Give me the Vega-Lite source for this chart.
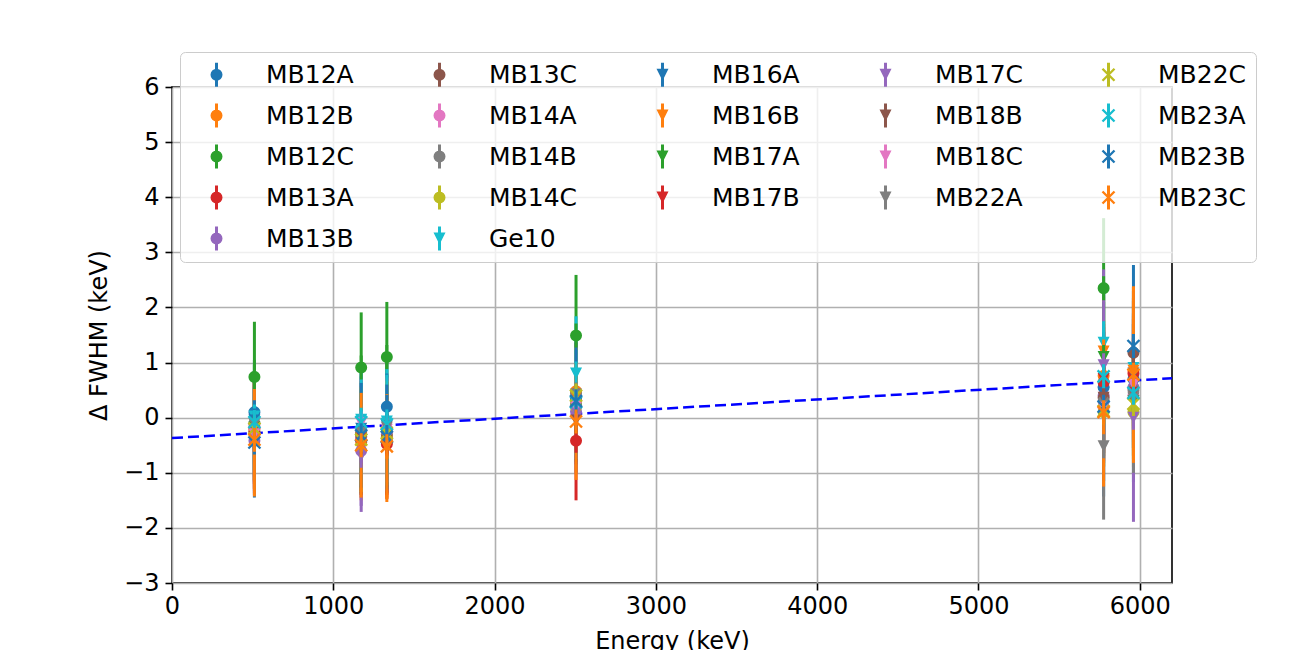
{
  "$schema": "https://vega.github.io/schema/vega-lite/v6.json",
  "width": 1000,
  "height": 496,
  "autosize": {"type": "none"},
  "padding": {"left": 172, "top": 87, "right": 119, "bottom": 67},
  "background": "white",
  "resolve": {"legend": {"color": "independent", "shape": "independent"}},
  "config": {
    "font": "DejaVu Sans",
    "view": {"stroke": "black", "strokeWidth": 1.6},
    "axis": {
      "labelFont": "DejaVu Sans",
      "titleFont": "DejaVu Sans",
      "labelFontSize": 24,
      "titleFontSize": 24,
      "titleFontWeight": "normal",
      "labelColor": "black",
      "titleColor": "black",
      "tickColor": "black",
      "tickSize": 7,
      "tickWidth": 1.6,
      "domain": false,
      "gridColor": "#b0b0b0",
      "gridWidth": 1.6,
      "labelFlush": false,
      "labelOverlap": false
    },
    "legend": {
      "orient": "none",
      "legendX": 8,
      "legendY": -35,
      "columns": 5,
      "gridAlign": "all",
      "labelFont": "DejaVu Sans",
      "labelFontSize": 25,
      "labelColor": "black",
      "symbolSize": 576,
      "symbolStrokeWidth": 0,
      "symbolOpacity": 1,
      "rowPadding": 15,
      "columnPadding": 59,
      "padding": 10,
      "cornerRadius": 5,
      "fillColor": "rgba(255,255,255,0.8)",
      "strokeColor": "#cccccc",
      "symbolOffset": 14,
      "labelOffset": 37,
      "symbolLimit": 0
    }
  },
  "datasets": {
    "fit": [{"E": 0, "f": -0.37}, {"E": 6200, "f": 0.715}],
    "pts": [
      {"d":"MB12A","E":511,"v":0.10,"e":0.95},{"d":"MB12A","E":1173,"v":-0.30,"e":0.95},{"d":"MB12A","E":1332,"v":0.20,"e":1.0},{"d":"MB12A","E":2505,"v":0.35,"e":1.0},{"d":"MB12A","E":5776,"v":0.55,"e":1.0},{"d":"MB12A","E":5961,"v":0.70,"e":1.0},
      {"d":"MB12B","E":511,"v":-0.30,"e":1.0},{"d":"MB12B","E":1173,"v":-0.45,"e":1.0},{"d":"MB12B","E":1332,"v":-0.45,"e":1.0},{"d":"MB12B","E":2505,"v":0.48,"e":1.0},{"d":"MB12B","E":5776,"v":0.76,"e":1.0},{"d":"MB12B","E":5961,"v":0.85,"e":1.0},
      {"d":"MB12C","E":511,"v":0.74,"e":1.0},{"d":"MB12C","E":1173,"v":0.91,"e":1.0},{"d":"MB12C","E":1332,"v":1.10,"e":1.0},{"d":"MB12C","E":2505,"v":1.49,"e":1.1},{"d":"MB12C","E":5776,"v":2.35,"e":1.27},
      {"d":"MB13A","E":511,"v":-0.20,"e":1.0},{"d":"MB13A","E":1173,"v":-0.40,"e":1.0},{"d":"MB13A","E":1332,"v":-0.48,"e":1.0},{"d":"MB13A","E":2505,"v":-0.42,"e":1.08},{"d":"MB13A","E":5776,"v":0.64,"e":1.0},{"d":"MB13A","E":5961,"v":0.80,"e":1.0},
      {"d":"MB13B","E":511,"v":-0.42,"e":0.95},{"d":"MB13B","E":1173,"v":-0.60,"e":1.0},{"d":"MB13B","E":1332,"v":-0.40,"e":0.95},{"d":"MB13B","E":2505,"v":0.11,"e":0.95},{"d":"MB13B","E":5776,"v":0.40,"e":1.0},{"d":"MB13B","E":5961,"v":0.55,"e":1.0},
      {"d":"MB13C","E":511,"v":-0.25,"e":0.95},{"d":"MB13C","E":1173,"v":-0.35,"e":0.95},{"d":"MB13C","E":1332,"v":-0.30,"e":0.95},{"d":"MB13C","E":2505,"v":0.30,"e":0.95},{"d":"MB13C","E":5776,"v":0.36,"e":1.0},{"d":"MB13C","E":5961,"v":1.18,"e":1.0},
      {"d":"MB14A","E":511,"v":-0.15,"e":1.0},{"d":"MB14A","E":1173,"v":-0.34,"e":0.95},{"d":"MB14A","E":1332,"v":-0.25,"e":0.95},{"d":"MB14A","E":2505,"v":0.25,"e":0.95},{"d":"MB14A","E":5776,"v":0.18,"e":1.0},{"d":"MB14A","E":5961,"v":0.40,"e":1.0},
      {"d":"MB14B","E":511,"v":-0.10,"e":0.95},{"d":"MB14B","E":1173,"v":-0.25,"e":0.95},{"d":"MB14B","E":1332,"v":-0.20,"e":0.95},{"d":"MB14B","E":2505,"v":0.44,"e":0.95},{"d":"MB14B","E":5776,"v":0.30,"e":1.0},{"d":"MB14B","E":5961,"v":0.50,"e":1.0},
      {"d":"MB14C","E":511,"v":-0.28,"e":1.0},{"d":"MB14C","E":1173,"v":-0.30,"e":0.95},{"d":"MB14C","E":1332,"v":-0.35,"e":0.95},{"d":"MB14C","E":2505,"v":0.20,"e":0.95},{"d":"MB14C","E":5776,"v":0.10,"e":1.0},{"d":"MB14C","E":5961,"v":0.10,"e":1.0},
      {"d":"Ge10","E":511,"v":0.02,"e":0.82},{"d":"Ge10","E":1173,"v":-0.04,"e":0.85},{"d":"Ge10","E":1332,"v":-0.07,"e":0.95},{"d":"Ge10","E":2505,"v":0.80,"e":1.04},{"d":"Ge10","E":5776,"v":1.36,"e":1.0},{"d":"Ge10","E":5961,"v":0.90,"e":1.0},
      {"d":"MB16A","E":511,"v":-0.05,"e":0.9},{"d":"MB16A","E":1173,"v":-0.20,"e":0.95},{"d":"MB16A","E":1332,"v":-0.15,"e":0.95},{"d":"MB16A","E":2505,"v":0.30,"e":1.05},{"d":"MB16A","E":5776,"v":0.45,"e":1.88},{"d":"MB16A","E":5961,"v":0.80,"e":1.97},
      {"d":"MB16B","E":511,"v":-0.30,"e":1.0},{"d":"MB16B","E":1173,"v":-0.50,"e":1.0},{"d":"MB16B","E":1332,"v":-0.53,"e":1.0},{"d":"MB16B","E":2505,"v":0.38,"e":0.95},{"d":"MB16B","E":5776,"v":1.20,"e":1.0},{"d":"MB16B","E":5961,"v":0.85,"e":1.53},
      {"d":"MB17A","E":511,"v":-0.18,"e":0.95},{"d":"MB17A","E":1173,"v":-0.42,"e":0.95},{"d":"MB17A","E":1332,"v":-0.30,"e":0.95},{"d":"MB17A","E":2505,"v":0.15,"e":0.95},{"d":"MB17A","E":5776,"v":1.10,"e":1.0},{"d":"MB17A","E":5961,"v":0.30,"e":1.0},
      {"d":"MB17B","E":511,"v":-0.35,"e":1.05},{"d":"MB17B","E":1173,"v":-0.38,"e":0.95},{"d":"MB17B","E":1332,"v":-0.45,"e":0.95},{"d":"MB17B","E":2505,"v":0.22,"e":0.95},{"d":"MB17B","E":5776,"v":0.70,"e":1.0},{"d":"MB17B","E":5961,"v":0.45,"e":1.0},
      {"d":"MB17C","E":511,"v":-0.38,"e":0.95},{"d":"MB17C","E":1173,"v":-0.69,"e":1.02},{"d":"MB17C","E":1332,"v":-0.38,"e":0.95},{"d":"MB17C","E":2505,"v":0.10,"e":0.95},{"d":"MB17C","E":5776,"v":0.95,"e":1.74},{"d":"MB17C","E":5961,"v":0.00,"e":1.89},
      {"d":"MB18B","E":511,"v":-0.22,"e":0.95},{"d":"MB18B","E":1173,"v":-0.45,"e":0.95},{"d":"MB18B","E":1332,"v":-0.42,"e":0.95},{"d":"MB18B","E":2505,"v":-0.05,"e":0.95},{"d":"MB18B","E":5776,"v":0.36,"e":1.0},{"d":"MB18B","E":5961,"v":1.12,"e":1.0},
      {"d":"MB18C","E":511,"v":-0.30,"e":0.95},{"d":"MB18C","E":1173,"v":-0.10,"e":0.95},{"d":"MB18C","E":1332,"v":-0.22,"e":0.95},{"d":"MB18C","E":2505,"v":0.20,"e":0.95},{"d":"MB18C","E":5776,"v":0.18,"e":1.0},{"d":"MB18C","E":5961,"v":0.60,"e":1.0},
      {"d":"MB22A","E":511,"v":-0.12,"e":0.95},{"d":"MB22A","E":1173,"v":-0.28,"e":0.95},{"d":"MB22A","E":1332,"v":-0.18,"e":0.95},{"d":"MB22A","E":2505,"v":0.42,"e":0.95},{"d":"MB22A","E":5776,"v":-0.52,"e":1.33},{"d":"MB22A","E":5961,"v":0.35,"e":1.35},
      {"d":"MB22C","E":511,"v":-0.20,"e":0.95},{"d":"MB22C","E":1173,"v":-0.40,"e":0.95},{"d":"MB22C","E":1332,"v":-0.28,"e":0.95},{"d":"MB22C","E":2505,"v":0.40,"e":0.95},{"d":"MB22C","E":5776,"v":0.12,"e":1.0},{"d":"MB22C","E":5961,"v":0.25,"e":1.0},
      {"d":"MB23A","E":511,"v":-0.08,"e":0.9},{"d":"MB23A","E":1173,"v":-0.08,"e":0.9},{"d":"MB23A","E":1332,"v":-0.12,"e":0.9},{"d":"MB23A","E":2505,"v":0.28,"e":0.95},{"d":"MB23A","E":5776,"v":0.75,"e":1.0},{"d":"MB23A","E":5961,"v":0.45,"e":1.0},
      {"d":"MB23B","E":511,"v":-0.45,"e":1.0},{"d":"MB23B","E":1173,"v":-0.32,"e":0.95},{"d":"MB23B","E":1332,"v":-0.35,"e":0.95},{"d":"MB23B","E":2505,"v":0.30,"e":1.06},{"d":"MB23B","E":5776,"v":0.20,"e":1.35},{"d":"MB23B","E":5961,"v":1.30,"e":1.0},
      {"d":"MB23C","E":511,"v":-0.40,"e":1.03},{"d":"MB23C","E":1173,"v":-0.50,"e":0.95},{"d":"MB23C","E":1332,"v":-0.52,"e":0.95},{"d":"MB23C","E":2505,"v":-0.07,"e":1.06},{"d":"MB23C","E":5776,"v":0.10,"e":1.35},{"d":"MB23C","E":5961,"v":0.78,"e":1.6}
    ]
  },
  "layer": [
    {
      "data": {"name": "fit"},
      "mark": {"type": "line", "color": "#0000ff", "strokeDash": [11, 5], "strokeWidth": 2.5},
      "encoding": {
        "x": {"field": "E", "type": "quantitative", "title": "Energy (keV)", "scale": {"domain": [0, 6200], "nice": false, "zero": false},
              "axis": {"values": [0, 1000, 2000, 3000, 4000, 5000, 6000], "format": "d", "title": "Energy (keV)", "labelPadding": 4, "titlePadding": 11}},
        "y": {"field": "f", "type": "quantitative", "title": "Δ FWHM (keV)", "scale": {"domain": [-3, 6], "nice": false, "zero": false},
              "axis": {"values": [-3, -2, -1, 0, 1, 2, 3, 4, 5, 6], "format": "d", "title": "Δ FWHM (keV)", "labelPadding": 6, "titlePadding": 12,
                       "labelExpr": "replace(datum.label, '-', '−')"}}
      }
    },
    {
      "data": {"name": "pts"},
      "mark": {"type": "errorbar", "thickness": 3},
      "encoding": {
        "x": {"field": "E", "type": "quantitative", "title": "Energy (keV)"},
        "y": {"field": "v", "type": "quantitative", "title": "Δ FWHM (keV)"},
        "yError": {"field": "e"},
        "color": {"field": "d", "type": "nominal", "legend": null,
                  "scale": {"domain": ["MB12A","MB12B","MB12C","MB23B","MB22A","MB13C","MB14A","MB14B","MB13A","MB23C","MB16A","MB16B","MB17A","MB14C","MB13B","MB17C","MB18B","MB18C","MB17B","Ge10","MB22C","MB23A"],
                            "range": ["#1f77b4","#ff7f0e","#2ca02c","#1f77b4","#7f7f7f","#8c564b","#e377c2","#7f7f7f","#d62728","#ff7f0e","#1f77b4","#ff7f0e","#2ca02c","#bcbd22","#9467bd","#9467bd","#8c564b","#e377c2","#d62728","#17becf","#bcbd22","#17becf"]}}
      }
    },
    {
      "data": {"name": "pts"},
      "mark": {"type": "point", "filled": true, "opacity": 1, "size": 576, "strokeWidth": 0},
      "encoding": {
        "x": {"field": "E", "type": "quantitative", "title": "Energy (keV)"},
        "y": {"field": "v", "type": "quantitative", "title": "Δ FWHM (keV)"},
        "color": {"field": "d", "type": "nominal", "title": null,
                  "scale": {"domain": ["MB12A","MB12B","MB12C","MB23B","MB22A","MB13C","MB14A","MB14B","MB13A","MB23C","MB16A","MB16B","MB17A","MB14C","MB13B","MB17C","MB18B","MB18C","MB17B","Ge10","MB22C","MB23A"],
                            "range": ["#1f77b4","#ff7f0e","#2ca02c","#1f77b4","#7f7f7f","#8c564b","#e377c2","#7f7f7f","#d62728","#ff7f0e","#1f77b4","#ff7f0e","#2ca02c","#bcbd22","#9467bd","#9467bd","#8c564b","#e377c2","#d62728","#17becf","#bcbd22","#17becf"]}},
        "shape": {"field": "d", "type": "nominal", "title": null,
                  "scale": {"domain": ["MB12A","MB12B","MB12C","MB23B","MB22A","MB13C","MB14A","MB14B","MB13A","MB23C","MB16A","MB16B","MB17A","MB14C","MB13B","MB17C","MB18B","MB18C","MB17B","Ge10","MB22C","MB23A"],
                            "range": [
                              "M0.5,0L0.462,0.191L0.354,0.354L0.191,0.462L0,0.5L-0.191,0.462L-0.354,0.354L-0.462,0.191L-0.5,0L-0.462,-0.191L-0.354,-0.354L-0.191,-0.462L0,-0.5L0.191,-0.462L0.354,-0.354L0.462,-0.191ZM-0.125,-1L0.125,-1L0.125,1L-0.125,1Z",
                              "M0.5,0L0.462,0.191L0.354,0.354L0.191,0.462L0,0.5L-0.191,0.462L-0.354,0.354L-0.462,0.191L-0.5,0L-0.462,-0.191L-0.354,-0.354L-0.191,-0.462L0,-0.5L0.191,-0.462L0.354,-0.354L0.462,-0.191ZM-0.125,-1L0.125,-1L0.125,1L-0.125,1Z",
                              "M0.5,0L0.462,0.191L0.354,0.354L0.191,0.462L0,0.5L-0.191,0.462L-0.354,0.354L-0.462,0.191L-0.5,0L-0.462,-0.191L-0.354,-0.354L-0.191,-0.462L0,-0.5L0.191,-0.462L0.354,-0.354L0.462,-0.191ZM-0.125,-1L0.125,-1L0.125,1L-0.125,1Z",
                              "M-0.43,-0.57L0.57,0.43L0.43,0.57L-0.57,-0.43ZM-0.43,0.57L-0.57,0.43L0.43,-0.57L0.57,-0.43ZM-0.125,-1L0.125,-1L0.125,1L-0.125,1Z",
                              "M-0.5,-0.5L0.5,-0.5L0,0.5ZM-0.125,-1L0.125,-1L0.125,1L-0.125,1Z",
                              "M0.5,0L0.462,0.191L0.354,0.354L0.191,0.462L0,0.5L-0.191,0.462L-0.354,0.354L-0.462,0.191L-0.5,0L-0.462,-0.191L-0.354,-0.354L-0.191,-0.462L0,-0.5L0.191,-0.462L0.354,-0.354L0.462,-0.191ZM-0.125,-1L0.125,-1L0.125,1L-0.125,1Z",
                              "M0.5,0L0.462,0.191L0.354,0.354L0.191,0.462L0,0.5L-0.191,0.462L-0.354,0.354L-0.462,0.191L-0.5,0L-0.462,-0.191L-0.354,-0.354L-0.191,-0.462L0,-0.5L0.191,-0.462L0.354,-0.354L0.462,-0.191ZM-0.125,-1L0.125,-1L0.125,1L-0.125,1Z",
                              "M0.5,0L0.462,0.191L0.354,0.354L0.191,0.462L0,0.5L-0.191,0.462L-0.354,0.354L-0.462,0.191L-0.5,0L-0.462,-0.191L-0.354,-0.354L-0.191,-0.462L0,-0.5L0.191,-0.462L0.354,-0.354L0.462,-0.191ZM-0.125,-1L0.125,-1L0.125,1L-0.125,1Z",
                              "M0.5,0L0.462,0.191L0.354,0.354L0.191,0.462L0,0.5L-0.191,0.462L-0.354,0.354L-0.462,0.191L-0.5,0L-0.462,-0.191L-0.354,-0.354L-0.191,-0.462L0,-0.5L0.191,-0.462L0.354,-0.354L0.462,-0.191ZM-0.125,-1L0.125,-1L0.125,1L-0.125,1Z",
                              "M-0.43,-0.57L0.57,0.43L0.43,0.57L-0.57,-0.43ZM-0.43,0.57L-0.57,0.43L0.43,-0.57L0.57,-0.43ZM-0.125,-1L0.125,-1L0.125,1L-0.125,1Z",
                              "M-0.5,-0.5L0.5,-0.5L0,0.5ZM-0.125,-1L0.125,-1L0.125,1L-0.125,1Z",
                              "M-0.5,-0.5L0.5,-0.5L0,0.5ZM-0.125,-1L0.125,-1L0.125,1L-0.125,1Z",
                              "M-0.5,-0.5L0.5,-0.5L0,0.5ZM-0.125,-1L0.125,-1L0.125,1L-0.125,1Z",
                              "M0.5,0L0.462,0.191L0.354,0.354L0.191,0.462L0,0.5L-0.191,0.462L-0.354,0.354L-0.462,0.191L-0.5,0L-0.462,-0.191L-0.354,-0.354L-0.191,-0.462L0,-0.5L0.191,-0.462L0.354,-0.354L0.462,-0.191ZM-0.125,-1L0.125,-1L0.125,1L-0.125,1Z",
                              "M0.5,0L0.462,0.191L0.354,0.354L0.191,0.462L0,0.5L-0.191,0.462L-0.354,0.354L-0.462,0.191L-0.5,0L-0.462,-0.191L-0.354,-0.354L-0.191,-0.462L0,-0.5L0.191,-0.462L0.354,-0.354L0.462,-0.191ZM-0.125,-1L0.125,-1L0.125,1L-0.125,1Z",
                              "M-0.5,-0.5L0.5,-0.5L0,0.5ZM-0.125,-1L0.125,-1L0.125,1L-0.125,1Z",
                              "M-0.5,-0.5L0.5,-0.5L0,0.5ZM-0.125,-1L0.125,-1L0.125,1L-0.125,1Z",
                              "M-0.5,-0.5L0.5,-0.5L0,0.5ZM-0.125,-1L0.125,-1L0.125,1L-0.125,1Z",
                              "M-0.5,-0.5L0.5,-0.5L0,0.5ZM-0.125,-1L0.125,-1L0.125,1L-0.125,1Z",
                              "M-0.5,-0.5L0.5,-0.5L0,0.5ZM-0.125,-1L0.125,-1L0.125,1L-0.125,1Z",
                              "M-0.43,-0.57L0.57,0.43L0.43,0.57L-0.57,-0.43ZM-0.43,0.57L-0.57,0.43L0.43,-0.57L0.57,-0.43ZM-0.125,-1L0.125,-1L0.125,1L-0.125,1Z",
                              "M-0.43,-0.57L0.57,0.43L0.43,0.57L-0.57,-0.43ZM-0.43,0.57L-0.57,0.43L0.43,-0.57L0.57,-0.43ZM-0.125,-1L0.125,-1L0.125,1L-0.125,1Z"
                            ]}}
      }
    }
  ]
}
